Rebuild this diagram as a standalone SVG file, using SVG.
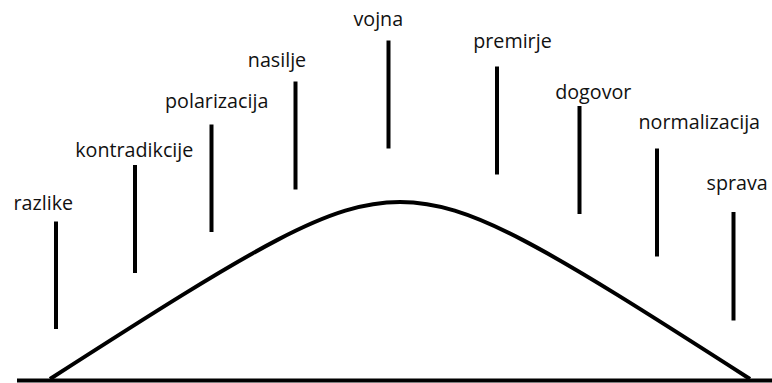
<svg xmlns="http://www.w3.org/2000/svg" width="772" height="383" viewBox="0 0 772 383">
<style>
.lbl{font-family:"Open Sans","Liberation Sans",sans-serif;font-size:19.7px;fill:#111;text-anchor:middle}
.tick{stroke:#000;stroke-width:4;fill:none}
.curve{stroke:#000;stroke-width:4;fill:none}
</style>
<rect width="772" height="383" fill="#fff"/>
<g id="axis">
<line x1="17" y1="380.5" x2="772" y2="380.5" stroke="#000" stroke-width="4"/>
<path class="curve" d="M50,379 C260,244 330,202 400,202 C470,202 540,244 750,379"/>
</g>
<g id="razlike"><text class="lbl" x="43.3" y="210">razlike</text><line class="tick" x1="56" y1="221.5" x2="56" y2="329"/></g>
<g id="kontradikcije"><text class="lbl" x="134.3" y="157">kontradikcije</text><line class="tick" x1="135" y1="165" x2="135" y2="273"/></g>
<g id="polarizacija"><text class="lbl" x="216.7" y="107.5">polarizacija</text><line class="tick" x1="211.5" y1="124.5" x2="211.5" y2="232"/></g>
<g id="nasilje"><text class="lbl" x="277" y="67">nasilje</text><line class="tick" x1="295.5" y1="81.5" x2="295.5" y2="189.5"/></g>
<g id="vojna"><text class="lbl" x="378.3" y="26">vojna</text><line class="tick" x1="388.5" y1="40.5" x2="388.5" y2="148.5"/></g>
<g id="premirje"><text class="lbl" x="512.5" y="48">premirje</text><line class="tick" x1="497" y1="66.5" x2="497" y2="174.5"/></g>
<g id="dogovor"><text class="lbl" x="593.3" y="98.5">dogovor</text><line class="tick" x1="579.5" y1="106" x2="579.5" y2="214"/></g>
<g id="normalizacija"><text class="lbl" x="699.3" y="128.5">normalizacija</text><line class="tick" x1="657" y1="148.5" x2="657" y2="256.5"/></g>
<g id="sprava"><text class="lbl" x="737.2" y="190">sprava</text><line class="tick" x1="733.5" y1="212" x2="733.5" y2="320.5"/></g>
</svg>
